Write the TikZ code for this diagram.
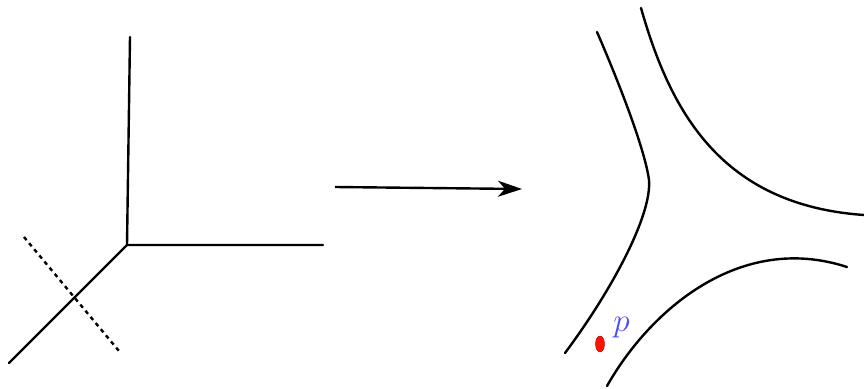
\documentclass[tikz,border=0pt]{standalone}
\usetikzlibrary{arrows.meta}
\tikzset{
  curve/.style={line width=2.4pt, line cap=round},
  cut/.style={line width=2.4pt, dash pattern=on 4pt off 4pt},
  map arrow/.style={line width=2.4pt, -{Stealth[length=24pt,width=16pt,inset=7pt]}},
  point/.style={ellipse, draw=red!60!black, fill=red!85!orange, inner sep=0pt, minimum width=9pt, minimum height=16pt, thin},
}
\usetikzlibrary{shapes.geometric}
\begin{document}
\begin{tikzpicture}[x=1pt,y=-1pt]
\useasboundingbox (0,0) rectangle (864,388);
%the tripod
\coordinate (c) at (127,245);
\coordinate (up) at (130,37);
\coordinate (rt) at (323,245);
\coordinate (dl) at (9,363);
\draw[curve] (up) -- (c) -- (rt);
\draw[curve] (c) -- (dl);
\coordinate (cutA) at (24,237);
\coordinate (cutB) at (119,351);
\draw[cut] (cutA) -- (cutB);
%the map
\coordinate (from) at (335,187);
\coordinate (to) at (522,189);
\draw[map arrow] (from) -- (to);
%the smoothed curves
\draw[curve] (597,32) .. controls (620,85) and (645,150) .. (649,180)
  .. controls (652,215) and (612,290) .. (565,353);
\draw[curve] (641,8) .. controls (670,110) and (720,205) .. (864,215);
\draw[curve] (607,386) .. controls (650,310) and (740,232) .. (847,267);
\node[point] (p) at (600,344) {};
\node[text=blue!70, font=\huge, scale=1.6, transform shape, anchor=base west, inner sep=0pt] (lab) at (613,331) {$p$};
\end{tikzpicture}
\end{document}
